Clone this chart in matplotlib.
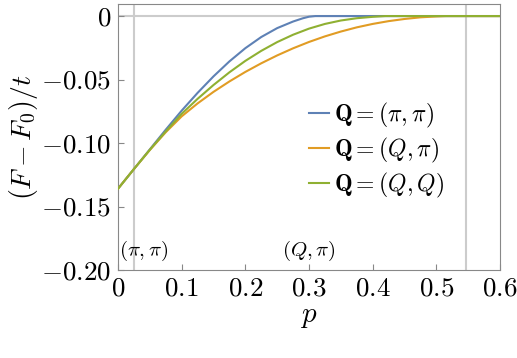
import numpy as np
import matplotlib
matplotlib.use('Agg')
import matplotlib.pyplot as plt

plt.rcParams['mathtext.fontset'] = 'cm'
plt.rcParams['font.family'] = 'serif'
plt.rcParams['font.serif'] = ['cmr10', 'DejaVu Serif']

# values
p_blue = [0, 0.025, 0.05, 0.075, 0.1, 0.125, 0.15, 0.175, 0.2, 0.225, 0.25, 0.275, 0.29,
          0.3, 0.31, 0.6]
f_blue = [-0.136, -0.1205, -0.105, -0.0895, -0.0745, -0.0605, -0.0475, -0.0357, -0.0253,
          -0.0165, -0.0095, -0.0043, -0.0018, -0.0005, 0.0, 0.0]

p_orange = [0, 0.025, 0.05, 0.075, 0.1, 0.125, 0.15, 0.175, 0.2, 0.225, 0.25, 0.275, 0.3,
            0.325, 0.35, 0.375, 0.4, 0.425, 0.45, 0.475, 0.5, 0.515, 0.6]
f_orange = [-0.136, -0.1205, -0.1055, -0.0915, -0.079, -0.0688, -0.0597, -0.0515, -0.044,
            -0.0372, -0.031, -0.0254, -0.0204, -0.016, -0.0122, -0.0089, -0.0062, -0.004,
            -0.0023, -0.001, -0.0003, 0.0, 0.0]

p_green = [0, 0.025, 0.05, 0.075, 0.1, 0.125, 0.15, 0.175, 0.2, 0.225, 0.25, 0.275, 0.3,
           0.325, 0.35, 0.375, 0.4, 0.42, 0.6]
f_green = [-0.136, -0.1205, -0.1053, -0.0908, -0.077, -0.0652, -0.0543, -0.0443, -0.0353,
           -0.0274, -0.0205, -0.0147, -0.0099, -0.0062, -0.0035, -0.0017, -0.0006, 0.0, 0.0]

labels = [r'$\mathbf{Q} = (\pi, \pi)$', r'$\mathbf{Q} = (Q, \pi)$', r'$\mathbf{Q} = (Q, Q)$']
colors = ['#5E81B5', '#E19C24', '#8FB032']

vlines = [0.025, 0.547]
xticks = [0, 0.1, 0.2, 0.3, 0.4, 0.5, 0.6]
xticklabels = ['0', '0.1', '0.2', '0.3', '0.4', '0.5', '0.6']
yticks = [0, -0.05, -0.10, -0.15, -0.20]
yticklabels = ['0', '-0.05', '-0.10', '-0.15', '-0.20']

fig = plt.figure(figsize=(5.17, 3.58), dpi=100)
ax = fig.add_axes([118 / 517, 88 / 358, 382 / 517, 266 / 358])

ax.axhline(0, color='#cccccc', lw=1.5, zorder=1)
for v in vlines:
    ax.axvline(v, color='#cccccc', lw=1.5, zorder=1)

for p, f, c, l in zip([p_blue, p_orange, p_green], [f_blue, f_orange, f_green], colors, labels):
    ax.plot(p, f, color=c, lw=1.5, label=l, zorder=3, solid_joinstyle='round')

ax.set_xlim(0, 0.6)
ax.set_ylim(-0.2, 0.0095)
ax.set_xticks(xticks)
ax.set_xticklabels(['$' + t + '$' for t in xticklabels])
ax.set_yticks(yticks)
ax.set_yticklabels(['$' + t + '$' for t in yticklabels])
ax.tick_params(direction='in', length=4, color='#888888', labelsize=19.5, pad=5)
for s in ax.spines.values():
    s.set_color('#888888')

ax.set_xlabel(r'$p$', fontsize=21, labelpad=2)
ax.set_ylabel(r'$(F-F_0)/t$', fontsize=20, labelpad=1)

ax.text(0.002, -0.185, r'$(\pi, \pi)$', fontsize=15, ha='left', va='center')
ax.text(0.257, -0.185, r'$(Q, \pi)$', fontsize=15, ha='left', va='center')

ax.legend(loc='center left', bbox_to_anchor=(0.50, 0.45), frameon=False, fontsize=17,
          handlelength=0.85, handletextpad=0.2, labelspacing=0.25, borderaxespad=0,
          borderpad=0)

fig.savefig('out.png', dpi=100)
